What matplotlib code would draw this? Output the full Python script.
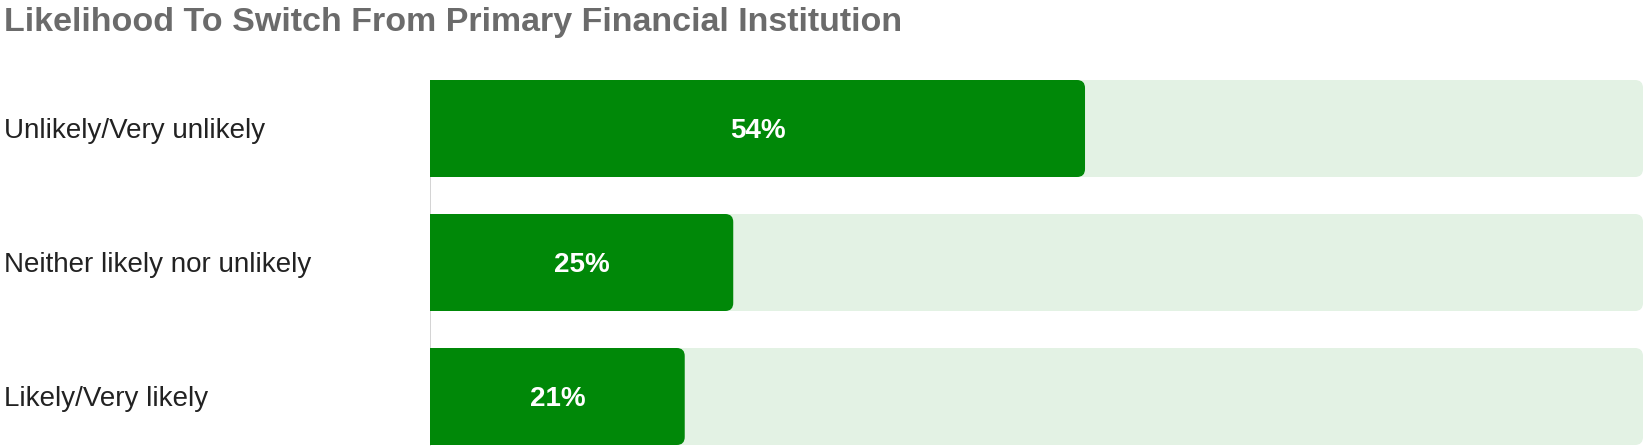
#!/usr/bin/env python3
"""Horizontal progress-style bar chart: likelihood to switch institution"""

import matplotlib; matplotlib.use('Agg')
import matplotlib.pyplot as plt
from matplotlib.patches import FancyBboxPatch, Rectangle

categories = ['Unlikely/Very unlikely', 'Neither likely nor unlikely', 'Likely/Very likely']
values = [54, 25, 21]
labels = ['54%', '25%', '21%']
title = 'Likelihood To Switch From Primary Financial Institution'

GREEN = '#008808'
TRACK = '#e3f2e4'
W, H = 1650, 448

##########################################################
def main():
    plt.rcParams['font.family'] = ['Liberation Sans', 'DejaVu Sans']
    fig = plt.figure(figsize=(W / 100, H / 100), dpi=100)
    x0, x1 = 430 / W, 1643 / W
    y_top, y_bot = 80, 448
    ax = fig.add_axes([x0, 1 - y_bot / H, x1 - x0, (y_bot - y_top) / H])
    pitch = 134.0
    bh = 97 / pitch
    ax.set_xlim(0, 100)
    ax.set_ylim(-bh / 2 + (y_bot - y_top) / pitch, -bh / 2)
    ax.axis('off')

    # aspect between x data unit and y data unit in pixels
    px_x = (1643 - 430) / 100.0
    asp = px_x / pitch
    r = 8 / px_x
    dy = 2.5 / pitch  # text sits a touch below bar centre

    # thin gray baseline
    ax.plot([0, 0], [-bh / 2, len(values) - 1 + bh / 2], color='#cccccc', lw=1.2, zorder=0)

    for i, (v, lab) in enumerate(zip(values, labels)):
        track = FancyBboxPatch((0, i - bh / 2), 100, bh,
                               boxstyle='round,pad=0,rounding_size=%f' % r,
                               mutation_aspect=asp, fc=TRACK, ec='none', zorder=1)
        ax.add_patch(track)
        bar = FancyBboxPatch((0, i - bh / 2), v, bh,
                             boxstyle='round,pad=0,rounding_size=%f' % r,
                             mutation_aspect=asp, fc=GREEN, ec='none', zorder=2)
        ax.add_patch(bar)
        ax.add_patch(Rectangle((0, i - bh / 2), v / 2, bh, fc=GREEN, ec='none', zorder=2))
        ax.text(v / 2, i + dy, lab, color='white', fontsize=20, fontweight='bold',
                ha='center', va='center', zorder=3)
        ax.text(-430 / px_x + 4 / px_x, i + dy, categories[i], color='#222222', fontsize=20,
                ha='left', va='center', clip_on=False)

    fig.text(4 / W, 1 - 22 / H, title, color='#6b6b6b', fontsize=24.5, fontweight='bold',
             ha='left', va='center')
    fig.savefig('out.png', dpi=100, facecolor='white')

##########################################################
if __name__ == "__main__":
    main()
